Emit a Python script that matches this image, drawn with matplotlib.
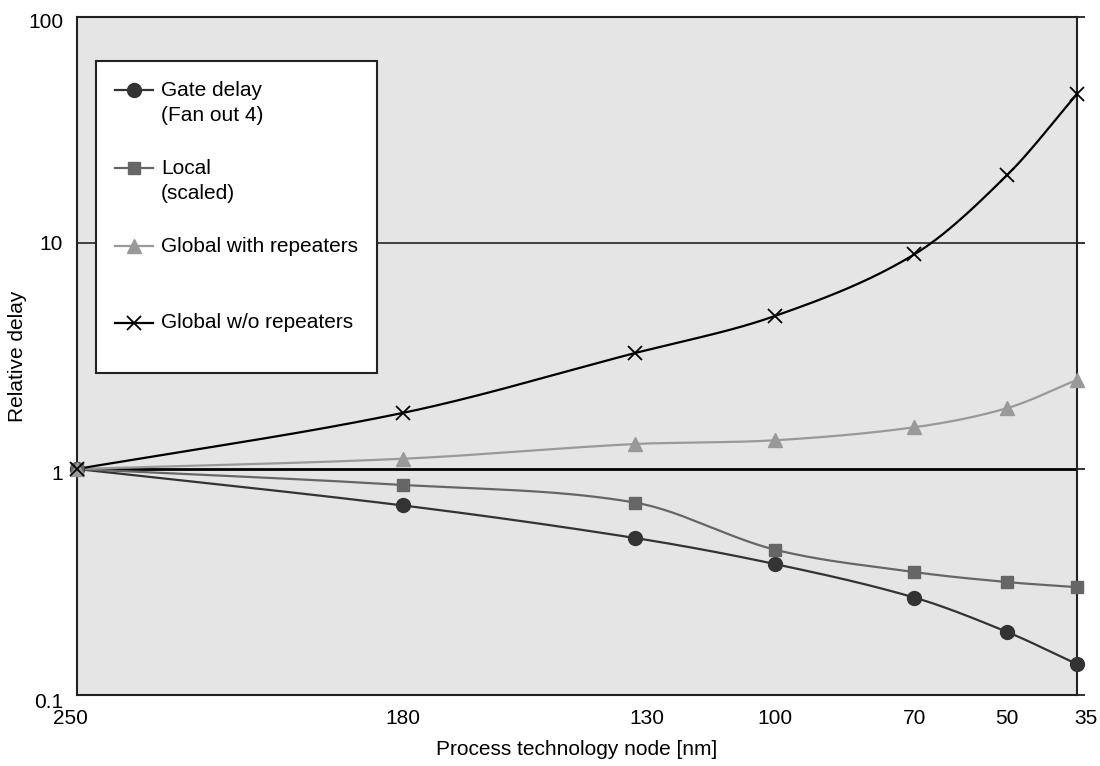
import numpy as np
import matplotlib
matplotlib.use("Agg")
import matplotlib.pyplot as plt
from matplotlib.lines import Line2D
from matplotlib.patches import Rectangle
from matplotlib.transforms import ScaledTranslation

plt.rcParams['font.family'] = ['Liberation Sans', 'DejaVu Sans']

# ---- data ----
nodes = [250, 180, 130, 100, 70, 50, 35]
gate_delay = [1.0, 0.69, 0.495, 0.38, 0.27, 0.19, 0.137]
local_scaled = [1.0, 0.85, 0.71, 0.44, 0.35, 0.316, 0.30]
global_rep = [1.0, 1.11, 1.29, 1.34, 1.53, 1.86, 2.48]
global_norep = [1.0, 1.77, 3.26, 4.75, 8.9, 20.0, 45.6]
y_ticks = [0.1, 1, 10, 100]
y_ticklabels = ["0.1", "1", "10", "100"]
legend_labels = [("Gate delay", "(Fan out 4)"), ("Local", "(scaled)"),
                 ("Global with repeaters", None), ("Global w/o repeaters", None)]

FS = 15


def smooth(xs, ys, n=300):
    """Cubic Hermite path through the points (finite-difference tangents),
    in (x, log y) space - drawing only."""
    x = np.asarray(xs, float)
    y = np.log10(np.asarray(ys, float))
    order = np.argsort(x)
    x, y = x[order], y[order]
    h = np.diff(x)
    d = np.diff(y) / h
    m = np.zeros_like(x)
    for k in range(1, len(x) - 1):
        m[k] = (y[k + 1] - y[k - 1]) / (x[k + 1] - x[k - 1])
    m[0] = d[0]
    m[-1] = d[-1]
    xx = np.linspace(x[0], x[-1], n)
    idx = np.clip(np.searchsorted(x, xx) - 1, 0, len(x) - 2)
    t = (xx - x[idx]) / h[idx]
    h00 = 2 * t**3 - 3 * t**2 + 1
    h10 = t**3 - 2 * t**2 + t
    h01 = -2 * t**3 + 3 * t**2
    h11 = t**3 - t**2
    yy = h00 * y[idx] + h10 * h[idx] * m[idx] + h01 * y[idx + 1] + h11 * h[idx] * m[idx + 1]
    return xx, 10 ** yy


fig = plt.figure(figsize=(11, 7.66), dpi=100)
ax = fig.add_axes([77 / 1100, 1 - 695 / 766, 1000 / 1100, 678 / 766])
ax.set_facecolor('#e5e5e5')
ax.set_yscale('log')
ax.set_xlim(250, 35)
ax.set_ylim(0.1, 100)

ax.axhline(10, color='#333333', lw=1.3, zorder=1)
ax.axhline(1, color='black', lw=2.0, zorder=1)

series = [
    (gate_delay, '#333333', 'o', 10, 1.6),
    (local_scaled, '#666666', 's', 9, 1.6),
    (global_rep, '#999999', '^', 9.5, 1.6),
    (global_norep, '#000000', 'x', 10, 1.6),
]
for vals, col, mk, ms, lw in series:
    sx, sy = smooth(nodes, vals)
    ax.plot(sx, sy, color=col, lw=lw, zorder=3, clip_on=False)
    ax.plot(nodes, vals, linestyle='none', marker=mk, color=col, ms=ms,
            mew=1.3 if mk == 'x' else 1, zorder=4, clip_on=False)

ax.set_xticks(nodes)
ax.set_xticklabels([str(n) for n in nodes])
ax.set_yticks(y_ticks)
ax.set_yticklabels(y_ticklabels)
ax.yaxis.set_minor_locator(matplotlib.ticker.NullLocator())
ax.tick_params(axis='x', length=0, pad=10, labelsize=FS)
ax.tick_params(axis='y', left=False, right=True, labelleft=True, labelright=False,
               length=6, width=1.3, color='#222222', pad=4, labelsize=FS)
for s in ax.spines.values():
    s.set_color('#222222')
    s.set_linewidth(1.5)

# small shifts of some tick labels as in the reference
shifts = {250: -7, 130: 12, 35: 9}
for lab, n in zip(ax.get_xticklabels(), nodes):
    if n in shifts:
        lab.set_transform(lab.get_transform() +
                          ScaledTranslation(shifts[n] / 100, 0, fig.dpi_scale_trans))
yshift = {0.1: -6, 1: -3, 100: -3}
for lab, v in zip(ax.get_yticklabels(), y_ticks):
    if v in yshift:
        lab.set_transform(lab.get_transform() +
                          ScaledTranslation(0, yshift[v] / 100, fig.dpi_scale_trans))

ax.set_xlabel("Process technology node [nm]", fontsize=FS)
ax.set_ylabel("Relative delay", fontsize=FS)
ax.xaxis.set_label_coords(0.5, -0.066)
ax.yaxis.set_label_coords(-0.05, 0.5)

# legend box drawn by hand
ax.add_patch(Rectangle((0.019, 0.475), 0.281, 0.46, transform=ax.transAxes,
                       facecolor='white', edgecolor='#222222', lw=1.5, zorder=5))
entry_y = [0.892, 0.777, 0.662, 0.549]
for (vals, col, mk, ms, lw), (l1, l2), yy in zip(series, legend_labels, entry_y):
    ax.add_line(Line2D([0.038, 0.076], [yy, yy], transform=ax.transAxes,
                       color=col, lw=lw, zorder=6))
    ax.add_line(Line2D([0.057], [yy], transform=ax.transAxes, color=col,
                       marker=mk, ms=ms, mew=1.3 if mk == 'x' else 1,
                       linestyle='none', zorder=6))
    ax.text(0.084, yy, l1, transform=ax.transAxes, fontsize=FS, va='center',
            ha='left', zorder=7)
    if l2:
        ax.text(0.084, yy - 0.037, l2, transform=ax.transAxes, fontsize=FS,
                va='center', ha='left', zorder=7)

fig.savefig("out.png", dpi=100)
